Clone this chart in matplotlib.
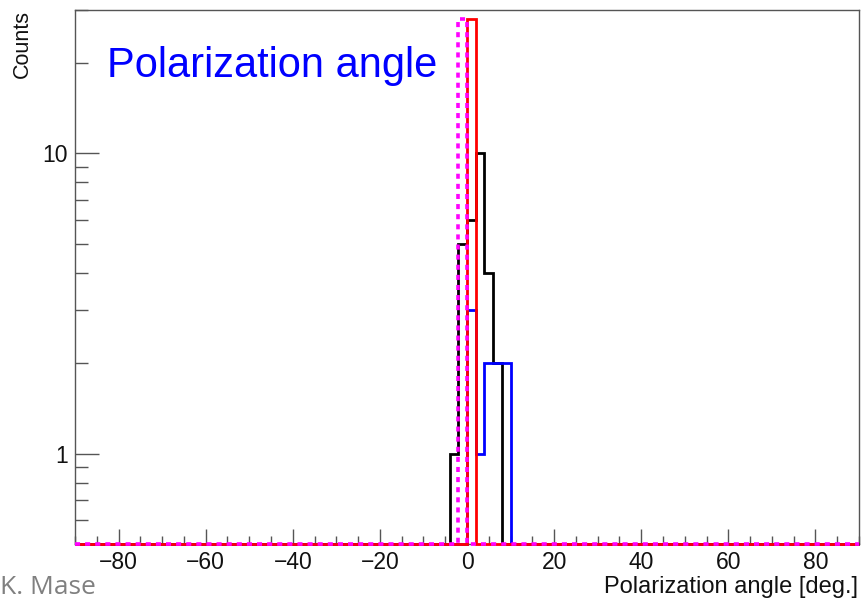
import numpy as np
import matplotlib
matplotlib.use("Agg")
from matplotlib import pyplot as plt
from matplotlib.ticker import MultipleLocator, FixedLocator, FixedFormatter, NullFormatter

# histogram binning (degrees)
x_min, x_max, bin_width = -90, 90, 2

# non-empty bins: (first bin left edge, counts)
black_start, black_counts = -4, [1, 5, 6, 10, 4, 2]
blue_start, blue_counts = 0, [3, 1, 2, 2, 2]
red_start, red_counts = 0, [28]
magenta_start, magenta_counts = -2, [28]

y_min, y_max = 0.5, 30

edges = np.arange(x_min, x_max + bin_width, bin_width)


def full_hist(start, counts):
    h = np.zeros(len(edges) - 1)
    i0 = int((start - x_min) / bin_width)
    h[i0:i0 + len(counts)] = counts
    # empty bins drawn on the frame bottom, like ROOT does
    h[h <= 0] = y_min
    return h


plt.rcParams['font.family'] = ['Liberation Sans', 'DejaVu Sans']

W, H = 861, 599
fig = plt.figure(figsize=(W / 100, H / 100), dpi=100)
ax = fig.add_axes([75 / W, 1 - 544 / H, (859 - 75) / W, (544 - 10) / H])

ax.stairs(full_hist(black_start, black_counts), edges, baseline=None,
          color='black', lw=2.0, clip_on=False, zorder=3)
ax.stairs(full_hist(blue_start, blue_counts), edges, baseline=None,
          color='#0000ff', lw=2.0, clip_on=False, zorder=4)
ax.stairs(full_hist(red_start, red_counts), edges, baseline=None,
          color='#ff0000', lw=2.0, clip_on=False, zorder=5)
ax.stairs(full_hist(magenta_start, magenta_counts), edges, baseline=None,
          color='#ff00ff', lw=2.6, linestyle=(0, (1.4, 1.4)), clip_on=False, zorder=6)

ax.set_yscale('log')
ax.set_xlim(x_min, x_max)
ax.set_ylim(y_min, y_max)

ax.xaxis.set_major_locator(MultipleLocator(20))
ax.xaxis.set_minor_locator(MultipleLocator(5))
ax.yaxis.set_major_locator(FixedLocator([1, 10]))
ax.yaxis.set_major_formatter(FixedFormatter(['1', '10']))
ax.yaxis.set_minor_locator(FixedLocator([0.6, 0.7, 0.8, 0.9, 2, 3, 4, 5, 6, 7, 8, 9, 20, 30]))
ax.yaxis.set_minor_formatter(NullFormatter())

ax.tick_params(axis='both', which='both', direction='in', color='#555555', width=1,
               labelsize=16.5, labelcolor='#111111', top=False, right=False)
ax.tick_params(axis='x', which='major', length=11, pad=5)
ax.tick_params(axis='x', which='minor', length=5.5)
ax.tick_params(axis='y', which='major', length=17, pad=5)
ax.tick_params(axis='y', which='minor', length=9)

for s in ax.spines.values():
    s.set_color('#555555')
    s.set_linewidth(1)

# axis titles placed like ROOT (right / top aligned)
fig.text(858 / W, 1 - 593 / H, 'Polarization angle [deg.]', ha='right',
         va='baseline', fontsize=17, color='#111111')
fig.text(22 / W, 1 - 10 / H, 'Counts', rotation=90, ha='center', va='top',
         fontsize=15.5, color='#111111')

# annotations
fig.text(107 / W, 1 - 77 / H, 'Polarization angle', color='#0000ff', fontsize=30,
         ha='left', va='baseline')
fig.text(0, 1 - 594 / H, 'K. Mase', ha='left', va='baseline',
         fontsize=19, color='#808080', family=['Open Sans', 'DejaVu Sans'])

fig.savefig('out.png', dpi=100)
